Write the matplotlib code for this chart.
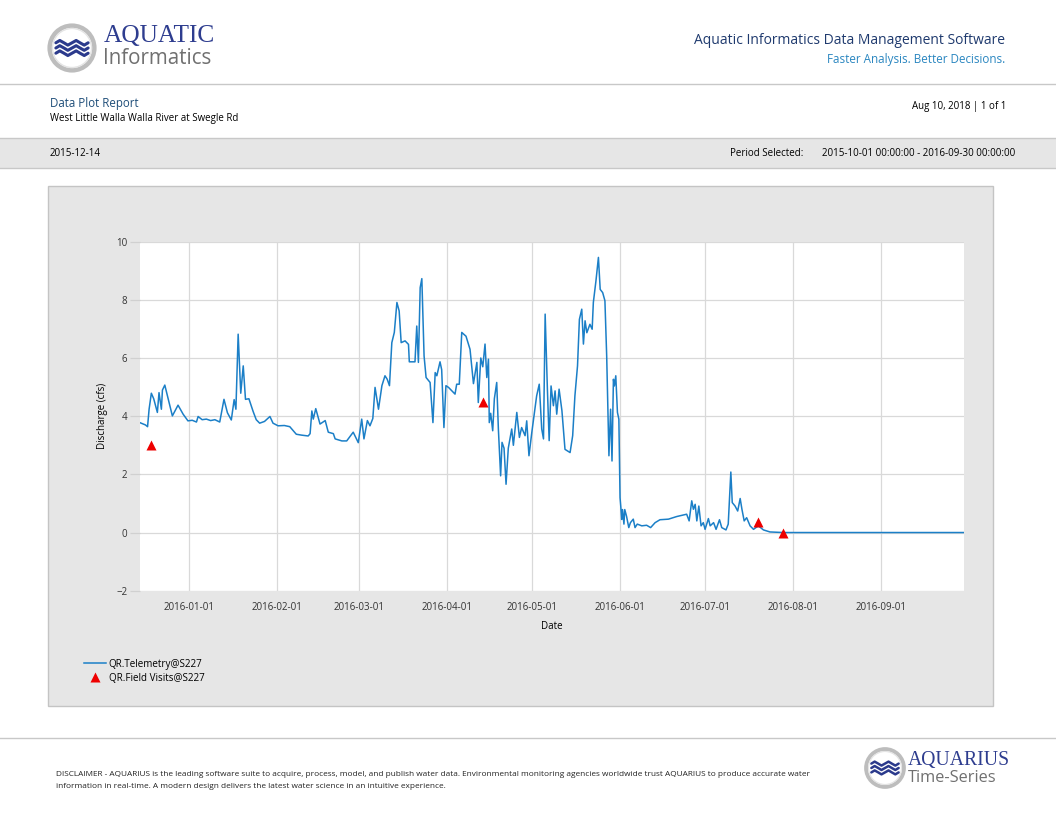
import matplotlib
matplotlib.use('Agg')
import matplotlib.pyplot as plt
import matplotlib.dates as mdates
from matplotlib.patches import Rectangle, Circle
from matplotlib.lines import Line2D
import pandas as pd

plt.rcParams['font.family'] = ['Open Sans', 'DejaVu Sans']

# QR.Telemetry@S227 discharge (cfs)
tel_dates = [
    "2015-12-14 12:00", "2015-12-15 12:00", "2015-12-16 12:00", "2015-12-17 06:00",
    "2015-12-17 19:00", "2015-12-18 14:00", "2015-12-19 10:00", "2015-12-20 17:00",
    "2015-12-21 07:00", "2015-12-22 03:00", "2015-12-22 12:00", "2015-12-23 08:00",
    "2015-12-24 12:00", "2015-12-26 00:00", "2015-12-28 00:00", "2015-12-29 19:00",
    "2015-12-31 12:00", "2016-01-02 00:00", "2016-01-03 12:00", "2016-01-04 02:00",
    "2016-01-05 12:00", "2016-01-07 00:00", "2016-01-08 12:00", "2016-01-10 00:00",
    "2016-01-11 17:00", "2016-01-13 05:00", "2016-01-14 10:00", "2016-01-15 19:00",
    "2016-01-16 19:00", "2016-01-17 10:00", "2016-01-18 05:00", "2016-01-19 03:00",
    "2016-01-20 00:00", "2016-01-20 19:00", "2016-01-22 00:00", "2016-01-23 12:00",
    "2016-01-24 14:00", "2016-01-25 19:00", "2016-01-27 12:00", "2016-01-29 10:00",
    "2016-01-30 12:00", "2016-02-01 07:00", "2016-02-03 12:00", "2016-02-05 10:00",
    "2016-02-07 17:00", "2016-02-09 12:00", "2016-02-11 22:00", "2016-02-12 14:00",
    "2016-02-13 05:00", "2016-02-13 17:00", "2016-02-14 14:00", "2016-02-16 02:00",
    "2016-02-17 22:00", "2016-02-19 00:00", "2016-02-20 19:00", "2016-02-21 10:00",
    "2016-02-23 19:00", "2016-02-25 12:00", "2016-02-27 19:00", "2016-02-29 14:00",
    "2016-03-01 19:00", "2016-03-02 14:00", "2016-03-03 19:00", "2016-03-04 17:00",
    "2016-03-05 17:00", "2016-03-06 12:00", "2016-03-07 17:00", "2016-03-08 22:00",
    "2016-03-10 00:00", "2016-03-10 19:00", "2016-03-11 14:00", "2016-03-12 10:00",
    "2016-03-13 07:00", "2016-03-14 05:00", "2016-03-15 00:00", "2016-03-15 17:00",
    "2016-03-17 02:00", "2016-03-18 07:00", "2016-03-18 14:00", "2016-03-20 14:00",
    "2016-03-21 05:00", "2016-03-21 19:00", "2016-03-22 10:00", "2016-03-23 00:00",
    "2016-03-23 19:00", "2016-03-24 12:00", "2016-03-25 22:00", "2016-03-26 22:00",
    "2016-03-27 17:00", "2016-03-28 07:00", "2016-03-29 10:00", "2016-03-30 00:00",
    "2016-03-30 19:00", "2016-03-31 12:00", "2016-04-01 10:00", "2016-04-03 17:00",
    "2016-04-04 07:00", "2016-04-05 05:00", "2016-04-06 02:00", "2016-04-07 14:00",
    "2016-04-09 00:00", "2016-04-10 05:00", "2016-04-11 10:00", "2016-04-11 22:00",
    "2016-04-12 19:00", "2016-04-13 12:00", "2016-04-14 07:00", "2016-04-14 22:00",
    "2016-04-15 12:00", "2016-04-15 19:00", "2016-04-16 07:00", "2016-04-17 00:00",
    "2016-04-17 14:00", "2016-04-18 10:00", "2016-04-19 00:00", "2016-04-19 19:00",
    "2016-04-20 07:00", "2016-04-21 00:00", "2016-04-21 17:00", "2016-04-22 12:00",
    "2016-04-23 17:00", "2016-04-24 07:00", "2016-04-25 12:00", "2016-04-26 10:00",
    "2016-04-27 05:00", "2016-04-28 10:00", "2016-04-29 00:00", "2016-04-29 19:00",
    "2016-04-30 19:00", "2016-05-02 12:00", "2016-05-03 10:00", "2016-05-04 07:00",
    "2016-05-04 22:00", "2016-05-05 12:00", "2016-05-06 07:00", "2016-05-06 22:00",
    "2016-05-07 14:00", "2016-05-08 10:00", "2016-05-09 00:00", "2016-05-09 14:00",
    "2016-05-10 10:00", "2016-05-11 10:00", "2016-05-12 12:00", "2016-05-14 07:00",
    "2016-05-15 05:00", "2016-05-16 00:00", "2016-05-16 22:00", "2016-05-17 14:00",
    "2016-05-18 10:00", "2016-05-19 00:00", "2016-05-19 14:00", "2016-05-20 05:00",
    "2016-05-21 07:00", "2016-05-22 02:00", "2016-05-22 12:00", "2016-05-23 10:00",
    "2016-05-24 07:00", "2016-05-24 22:00", "2016-05-25 19:00", "2016-05-26 14:00",
    "2016-05-27 05:00", "2016-05-28 00:00", "2016-05-28 14:00", "2016-05-29 02:00",
    "2016-05-29 14:00", "2016-05-29 22:00", "2016-05-30 10:00", "2016-05-31 00:00",
    "2016-05-31 12:00", "2016-05-31 22:00", "2016-06-01 05:00", "2016-06-01 12:00",
    "2016-06-01 19:00", "2016-06-02 07:00", "2016-06-02 14:00", "2016-06-03 05:00",
    "2016-06-04 00:00", "2016-06-04 14:00", "2016-06-05 14:00", "2016-06-06 05:00",
    "2016-06-07 00:00", "2016-06-08 14:00", "2016-06-10 07:00", "2016-06-11 17:00",
    "2016-06-13 07:00", "2016-06-15 00:00", "2016-06-18 00:00", "2016-06-20 22:00",
    "2016-06-24 10:00", "2016-06-25 07:00", "2016-06-26 05:00", "2016-06-26 19:00",
    "2016-06-27 10:00", "2016-06-28 00:00", "2016-06-28 17:00", "2016-06-29 12:00",
    "2016-06-30 07:00", "2016-06-30 22:00", "2016-07-02 02:00", "2016-07-02 17:00",
    "2016-07-03 22:00", "2016-07-04 19:00", "2016-07-06 00:00", "2016-07-06 19:00",
    "2016-07-08 07:00", "2016-07-09 02:00", "2016-07-10 00:00", "2016-07-10 12:00",
    "2016-07-11 12:00", "2016-07-12 10:00", "2016-07-13 07:00", "2016-07-13 22:00",
    "2016-07-14 17:00", "2016-07-15 14:00", "2016-07-16 19:00", "2016-07-18 00:00",
    "2016-07-19 17:00", "2016-07-21 12:00", "2016-07-23 19:00", "2016-07-28 12:00",
    "2016-09-30 00:00",
]
tel_vals = [
    3.78, 3.74, 3.70, 3.64,
    4.24, 4.79, 4.60, 4.13,
    4.81, 4.24, 4.90, 5.07,
    4.60, 4.01, 4.38, 4.07,
    3.84, 3.86, 3.80, 3.99,
    3.88, 3.90, 3.85, 3.88,
    3.80, 4.58, 4.12, 3.87,
    4.57, 4.24, 6.82, 4.79,
    5.73, 4.58, 4.60, 4.16,
    3.88, 3.76, 3.82, 3.99,
    3.76, 3.67, 3.68, 3.64,
    3.38, 3.35, 3.32, 3.40,
    4.18, 3.90, 4.26, 3.73,
    3.85, 3.45, 3.40, 3.22,
    3.15, 3.15, 3.45, 3.09,
    3.90, 3.22, 3.85, 3.67,
    3.92, 4.99, 4.24, 5.05,
    5.39, 5.27, 5.05, 6.53,
    6.88, 7.91, 7.62, 6.53,
    6.59, 6.47, 5.87, 5.87,
    7.10, 5.85, 8.42, 8.73,
    6.07, 5.33, 5.16, 3.78,
    5.50, 5.39, 5.87, 5.60,
    3.61, 5.05, 4.99, 4.76,
    5.10, 5.10, 6.88, 6.75,
    6.30, 5.12, 5.85, 4.47,
    6.00, 5.70, 6.48, 5.33,
    5.96, 3.78, 4.10, 3.50,
    4.60, 5.16, 3.56, 1.95,
    3.10, 2.90, 1.66, 2.90,
    3.56, 3.00, 4.13, 3.27,
    3.61, 3.33, 3.84, 2.64,
    3.44, 4.70, 5.10, 3.56,
    3.22, 7.51, 4.93, 3.16,
    5.04, 4.36, 4.87, 4.07,
    4.93, 4.19, 2.86, 2.75,
    3.33, 4.70, 5.73, 7.33,
    7.68, 6.48, 7.28, 6.87,
    7.16, 6.99, 7.91, 8.65,
    9.46, 8.36, 8.25, 7.97,
    6.07, 2.64, 4.24, 2.46,
    5.27, 5.04, 5.39, 4.13,
    3.90, 1.20, 0.86, 0.45,
    0.79, 0.29, 0.79, 0.56,
    0.17, 0.34, 0.46, 0.17,
    0.29, 0.23, 0.25, 0.17,
    0.34, 0.44, 0.46, 0.55,
    0.63, 0.40, 1.09, 0.80,
    0.97, 0.40, 0.91, 0.23,
    0.34, 0.11, 0.48, 0.23,
    0.34, 0.11, 0.44, 0.17,
    0.09, 0.29, 2.08, 1.03,
    0.91, 0.74, 1.17, 0.80,
    0.40, 0.51, 0.23, 0.11,
    0.23, 0.09, 0.02, 0.00,
    0.00,
]

# QR.Field Visits@S227
visit_dates = ["2015-12-18 12:00", "2016-04-13 12:00", "2016-07-19 17:00", "2016-07-28 12:00"]
visit_vals = [3.0, 4.5, 0.35, 0.0]

y_ticks = [-2, 0, 2, 4, 6, 8, 10]

W, H = 1056, 816


def fx(px):
    return px / W


def fy(py):
    return 1 - py / H


def draw_logo(rect, ring_lw, wave_lw):
    # round badge with three waves, as in the report logo
    lg = fig.add_axes(rect)
    lg.set_xlim(-1, 1)
    lg.set_ylim(-1, 1)
    lg.set_aspect('equal')
    lg.axis('off')
    lg.add_patch(Circle((0, 0), 0.86, facecolor='white', edgecolor='#bdbdbd', lw=ring_lw))
    lg.add_patch(Circle((0, 0), 0.75, facecolor='none', edgecolor='#e4e4e4', lw=ring_lw * 0.3))
    wx = [-0.62, -0.47, -0.31, -0.16, 0.0, 0.16, 0.31, 0.47, 0.62]
    wy = [0.0, 0.09, 0.0, -0.09, 0.0, 0.09, 0.0, -0.09, 0.0]
    for off in (0.2, 0.0, -0.2):
        lg.plot(wx, [w + off for w in wy], color='#2b3a8c', lw=wave_lw,
                solid_joinstyle='round', solid_capstyle='round')


fig = plt.figure(figsize=(W / 100, H / 100), dpi=100)
fig.patch.set_facecolor('white')

# header ------------------------------------------------------------
draw_logo([fx(46), fy(74), 52 / W, 52 / H], 3.2, 2.2)

fig.text(fx(104), fy(36), 'AQUATIC', family='Liberation Serif', fontsize=18.3,
         color='#2e3d8f', va='center', ha='left')
fig.text(fx(103), fy(58.5), 'Informatics', fontsize=14.8, color='#707070', va='center', ha='left')

fig.text(fx(1005), fy(41), 'Aquatic Informatics Data Management Software', fontsize=10,
         color='#1f3a6e', ha='right', va='center')
fig.text(fx(1005), fy(60), 'Faster Analysis. Better Decisions.', fontsize=8.4,
         color='#2a86c0', ha='right', va='center')

fig.add_artist(Line2D([0, 1], [fy(84), fy(84)], color='#c8c8c8', lw=1, transform=fig.transFigure))

fig.text(fx(50), fy(104), 'Data Plot Report', fontsize=8.3, color='#1f4e79', va='center')
fig.text(fx(50), fy(119), 'West Little Walla Walla River at Swegle Rd', fontsize=7,
         color='black', va='center')
fig.text(fx(1006), fy(107), 'Aug 10, 2018 | 1 of 1', fontsize=7, color='black',
         ha='right', va='center')

fig.add_artist(Rectangle((0, fy(168)), 1, 30 / H, transform=fig.transFigure,
                         facecolor='#e6e6e6', edgecolor='none', zorder=-2))
for yy in (138, 168):
    fig.add_artist(Line2D([0, 1], [fy(yy), fy(yy)], color='#c8c8c8', lw=1,
                          transform=fig.transFigure))
fig.text(fx(50), fy(153), '2015-12-14', fontsize=7, color='black', va='center')
fig.text(fx(803), fy(153), 'Period Selected:', fontsize=7, color='black',
         ha='right', va='center')
fig.text(fx(1015), fy(153), '2015-10-01 00:00:00 - 2016-09-30 00:00:00', fontsize=7,
         color='black', ha='right', va='center')

# chart panel ---------------------------------------------------------
fig.add_artist(Rectangle((fx(48), fy(706)), (993 - 48) / W, (706 - 186) / H,
                         transform=fig.transFigure, facecolor='#e6e6e6',
                         edgecolor='#c4c4c4', lw=1, zorder=-2))

ax = fig.add_axes([fx(140), fy(590.7), (964 - 140) / W, (590.7 - 241.7) / H])
ax.set_facecolor('white')

t = pd.to_datetime(tel_dates)
v = pd.to_datetime(visit_dates)
tel_line, = ax.plot(t, tel_vals, color='#1b7fc7', lw=1.1, zorder=3)
vis_pts, = ax.plot(v, visit_vals, linestyle='none', marker='^', ms=7, color='#ee0000',
                   mec='none', zorder=4)

ax.set_xlim(pd.Timestamp('2015-12-14 14:00'), pd.Timestamp('2016-09-30 06:00'))
ax.set_ylim(-2, 10)
ax.set_yticks(y_ticks)
ax.xaxis.set_major_locator(mdates.MonthLocator())
ax.xaxis.set_major_formatter(mdates.DateFormatter('%Y-%m-%d'))
ax.grid(True, color='#d9d9d9', lw=0.9, zorder=0)
for s in ax.spines.values():
    s.set_visible(False)
ax.tick_params(axis='x', length=0, pad=8, labelsize=7, labelcolor='#333333')
ax.tick_params(axis='y', length=7, width=0.9, color='#d0d0d0', pad=2, labelsize=7,
               labelcolor='#333333')
ax.set_xlabel('Date', fontsize=7, labelpad=6)
ax.set_ylabel('Discharge (cfs)', fontsize=7, labelpad=6)

ax.legend([tel_line, vis_pts], ['QR.Telemetry@S227', 'QR.Field Visits@S227'],
          loc='upper left', bbox_to_anchor=(fx(80), fy(655)), bbox_transform=fig.transFigure,
          frameon=False, fontsize=7.1, handlelength=2.2, handletextpad=0.3,
          labelspacing=0.3, borderaxespad=0)

# footer ------------------------------------------------------------
fig.add_artist(Line2D([0, 1], [fy(738), fy(738)], color='#c8c8c8', lw=1, transform=fig.transFigure))
fig.text(fx(56), fy(774), 'DISCLAIMER - AQUARIUS is the leading software suite to acquire, process, '
         'model, and publish water data. Environmental monitoring agencies worldwide trust '
         'AQUARIUS to produce accurate water', fontsize=5.95, color='#222222', va='center')
fig.text(fx(56), fy(786), 'information in real-time. A modern design delivers the latest water '
         'science in an intuitive experience.', fontsize=5.95, color='#222222', va='center')

draw_logo([fx(863), fy(790), 44 / W, 44 / H], 2.8, 1.8)
fig.text(fx(908), fy(760), 'AQUARIUS', family='Liberation Serif', fontsize=14.2,
         color='#2e3d8f', va='center')
fig.text(fx(908), fy(778), 'Time-Series', fontsize=11.8, color='#707070', va='center')

fig.savefig('out.png', dpi=100, facecolor='white')
